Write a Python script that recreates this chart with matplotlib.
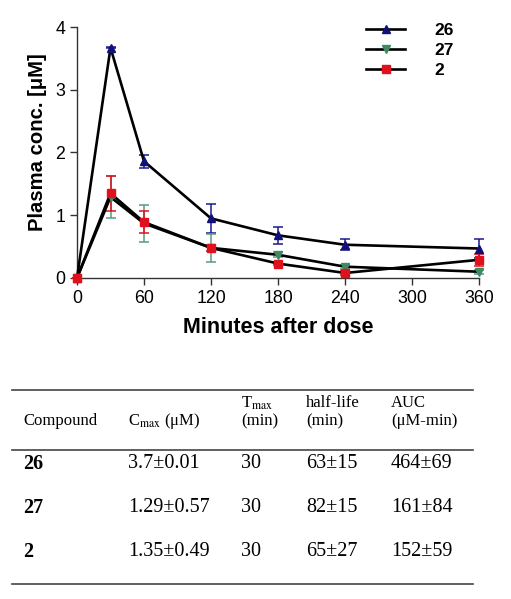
import matplotlib
matplotlib.use("Agg")
import matplotlib.pyplot as plt
from matplotlib.lines import Line2D

plt.rcParams['font.family'] = ['Liberation Sans', 'DejaVu Sans']
plt.rcParams['mathtext.fontset'] = 'stix'

# time points (minutes)
minutes = [0, 30, 60, 120, 180, 240, 360]

# mean plasma conc. (uM) and error
conc_26 = [0, 3.67, 1.86, 0.95, 0.68, 0.53, 0.47]
err_26 = [0, 0.01, 0.10, 0.23, 0.14, 0.09, 0.15]
conc_27 = [0, 1.29, 0.87, 0.48, 0.37, 0.18, 0.10]
err_27 = [0, 0.33, 0.30, 0.22, 0.04, 0.03, 0.03]
conc_2 = [0, 1.35, 0.89, 0.48, 0.23, 0.08, 0.29]
err_2 = [0, 0.28, 0.18, 0.05, 0.03, 0.03, 0.10]

# table
headers_line1 = ["", "", r"T$_{\rm max}$", "half-life", "AUC"]
headers_line2 = ["Compound", r"C$_{\rm max}$ (μM)", "(min)", "(min)", "(μM-min)"]
compounds = ["26", "27", "2"]
cmax = ["3.7±0.01", "1.29±0.57", "1.35±0.49"]
tmax = ["30", "30", "30"]
half_life = ["63±15", "82±15", "65±27"]
auc = ["464±69", "161±84", "152±59"]

W, H = 511, 599
fig = plt.figure(figsize=(W / 100, H / 100), dpi=100)

def fx(px):
    return px / W

def fy(py):
    return 1 - py / H

ax = fig.add_axes([fx(77), fy(278), fx(479) - fx(77), fy(27) - fy(278)])

series = [
    (conc_26, err_26, "26", "^", "#101078", "#1a1a90"),
    (conc_27, err_27, "27", "v", "#3e8a62", "#5a9a7e"),
    (conc_2, err_2, "2", "s", "#e0101c", "#e0101c"),
]

handles = []
for y, e, lab, mk, mcol, ecol in series:
    ax.errorbar(minutes, y, yerr=e, fmt="none", ecolor=ecol, elinewidth=1.1,
                capsize=3.8, capthick=1.1, zorder=2, clip_on=False)
    ax.plot(minutes, y, color="black", lw=1.9, zorder=3, clip_on=False)
    ax.plot(minutes, y, ls="none", marker=mk, ms=6, color=mcol, zorder=4,
            clip_on=False)
    handles.append(Line2D([], [], color="black", lw=1.9, marker=mk, ms=6,
                          markerfacecolor=mcol, markeredgecolor=mcol, label=lab))

ax.set_xlim(0, 360)
ax.set_ylim(0, 4)
ax.set_xticks([0, 60, 120, 180, 240, 300, 360])
ax.set_yticks([0, 1, 2, 3, 4])
ax.spines['top'].set_visible(False)
ax.spines['right'].set_visible(False)
for s in ['left', 'bottom']:
    ax.spines[s].set_linewidth(1.0)
    ax.spines[s].set_color("#333333")
ax.tick_params(direction="out", length=5, width=1.0, labelsize=12.8, color="#333333")

ax.set_xlabel("Minutes after dose", fontsize=15.5, fontweight="bold", va="top")
ax.xaxis.set_label_coords(0.5, -0.155)
ax.set_ylabel("Plasma conc. [μM]", fontsize=14.6, fontweight="bold")
ax.yaxis.set_label_coords(-0.075, 0.54)

leg = ax.legend(handles=handles, loc="upper right", bbox_to_anchor=(0.975, 1.08),
                frameon=False, handlelength=2.25, handletextpad=1.65,
                labelspacing=0.3, prop={"weight": "bold", "size": 12.5})

# table
serif = ['Liberation Serif', 'DejaVu Serif']
for py in [390, 450, 584]:
    fig.add_artist(Line2D([fx(12), fx(473)], [fy(py), fy(py)], color="#444444",
                          lw=1.2, transform=fig.transFigure))

col_x = [23, 128, 241, 306, 391]
for cx, h1, h2 in zip(col_x, headers_line1, headers_line2):
    if h1:
        fig.text(fx(cx), fy(403), h1, family=serif, fontsize=12, va="center")
    fig.text(fx(cx), fy(421), h2, family=serif, fontsize=12, va="center")

row_y = [464, 508, 552]
for i, ry in enumerate(row_y):
    vals = [compounds[i], cmax[i], tmax[i], half_life[i], auc[i]]
    for j, (cx, v) in enumerate(zip(col_x, vals)):
        fig.text(fx(cx), fy(ry), v, family=serif, fontsize=14.5, va="center",
                 fontweight="bold" if j == 0 else "normal")

fig.savefig("out.png", dpi=100)
